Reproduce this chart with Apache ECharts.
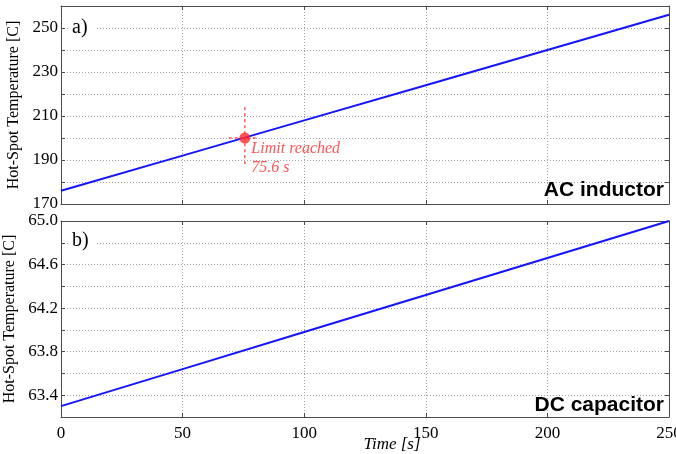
<!DOCTYPE html>
<html>
<head>
<meta charset="utf-8">
<script src="https://cdn.jsdelivr.net/npm/echarts@6/dist/echarts.min.js"></script>
<style>
html,body{margin:0;padding:0;background:#fff;}
#chart{width:676px;height:454px;}
</style>
</head>
<body>
<div id="chart"></div>
<script>
// ---- data ----
var timeS = [0, 50, 100, 150, 200, 250];
var acInductorTemp = [176, 192, 208, 224, 240, 256];
var dcCapacitorTemp = [63.30, 63.64, 63.98, 64.32, 64.66, 65.00];
var limitTime = 75.6;
var limitTemp = 200;
var limitVertical = [[75.6, 214], [75.6, 187.5]];
var limitHorizontal = [[69, 200], [81, 200]];
var panelLabels = ['a)', 'b)'];
var panelNames = ['AC inductor', 'DC capacitor'];
var yName = 'Hot-Spot Temperature [C]';
var xName = 'Time [s]';

var serif = '"Liberation Serif","DejaVu Serif",serif';
var sans = '"Liberation Sans",Arial,sans-serif';
var boxColor = '#4a4a4a';
var gridLine = {show: true, lineStyle: {color: '#a0a0a0', type: [1, 2], width: 1}};

function pair(a, b) { return a.map(function (v, i) { return [v, b[i]]; }); }

var chart = echarts.init(document.getElementById('chart'), null, {renderer: 'canvas'});

function xAx(gi, pos, labels) {
  return {
    type: 'value', gridIndex: gi, position: pos, min: 0, max: 250, interval: 50,
    axisLine: {show: true, onZero: false, lineStyle: {color: boxColor, width: 1}},
    axisTick: {show: true, inside: true, length: 4, lineStyle: {color: boxColor}},
    axisLabel: {show: labels, color: '#000', fontFamily: serif, fontSize: 17, margin: 8},
    splitLine: pos === 'bottom' ? gridLine : {show: false}
  };
}
function yAx(gi, pos, min, max, interval, fmt, withName) {
  return {
    type: 'value', gridIndex: gi, position: pos, min: min, max: max, interval: interval,
    name: withName ? yName : '', nameLocation: 'middle', nameGap: 37,
    nameTextStyle: {fontFamily: serif, fontSize: 16, color: '#000'},
    axisLine: {show: true, onZero: false, lineStyle: {color: boxColor, width: 1}},
    axisTick: {show: true, inside: true, length: 4, lineStyle: {color: boxColor}},
    axisLabel: {show: pos === 'left', formatter: fmt, color: '#000', fontFamily: serif, fontSize: 17, margin: 3,
      showMinLabel: true, showMaxLabel: true},
    splitLine: pos === 'left' ? gridLine : {show: false}
  };
}
var fmtTop = function (v) { var d = Math.round(v - 170); return (d % 20 === 0) ? String(Math.round(v)) : ''; };
var fmtBot = function (v) { var k = Math.round((v - 63.4) / 0.2); return (k >= 0 && k % 2 === 0) ? v.toFixed(1) : ''; };

var option = {
  backgroundColor: '#fff',
  animation: false,
  grid: [
    {left: 61, right: 7, top: 6, height: 198, outerBoundsMode: 'none', containLabel: false},
    {left: 61, right: 7, top: 221, height: 196, outerBoundsMode: 'none', containLabel: false}
  ],
  xAxis: [xAx(0, 'bottom', false), xAx(0, 'top', false), xAx(1, 'bottom', true), xAx(1, 'top', false)],
  yAxis: [
    yAx(0, 'left', 170, 260, 10, fmtTop, true),
    yAx(0, 'right', 170, 260, 10, fmtTop, false),
    yAx(1, 'left', 63.2, 65.0, 0.2, fmtBot, true),
    yAx(1, 'right', 63.2, 65.0, 0.2, fmtBot, false)
  ],
  series: [
    {type: 'line', xAxisIndex: 0, yAxisIndex: 0, data: pair(timeS, acInductorTemp), showSymbol: false,
      lineStyle: {color: '#1414ff', width: 2}, z: 3},
    {type: 'line', xAxisIndex: 2, yAxisIndex: 2, data: pair(timeS, dcCapacitorTemp), showSymbol: false,
      lineStyle: {color: '#1414ff', width: 2}, z: 3},
    {type: 'line', xAxisIndex: 0, yAxisIndex: 0, data: limitVertical, showSymbol: false,
      lineStyle: {color: '#ff3030', width: 1.2, type: [3, 3]}, z: 4},
    {type: 'line', xAxisIndex: 0, yAxisIndex: 0, data: limitHorizontal, showSymbol: false,
      lineStyle: {color: '#ff3030', width: 1.2, type: [3, 3]}, z: 4},
    {type: 'scatter', xAxisIndex: 0, yAxisIndex: 0, data: [[limitTime, limitTemp]], symbolSize: 11,
      itemStyle: {color: '#ff2a2a'}, z: 5,
      label: {show: true, position: [12, 7], align: 'left', verticalAlign: 'top',
        formatter: 'Limit reached\n' + limitTime + ' s', color: '#ff2a2a', fontFamily: serif,
        fontStyle: 'italic', fontSize: 16, lineHeight: 19}}
  ],
  graphic: [
    {type: 'rect', shape: {x: 68, y: 15, width: 28, height: 26}, style: {fill: '#fff'}, z: 10},
    {type: 'text', x: 72, y: 28, style: {text: panelLabels[0], font: '20px ' + serif, fill: '#000', verticalAlign: 'middle'}, z: 11},
    {type: 'rect', shape: {x: 68, y: 228, width: 28, height: 26}, style: {fill: '#fff'}, z: 10},
    {type: 'text', x: 72, y: 241, style: {text: panelLabels[1], font: '20px ' + serif, fill: '#000', verticalAlign: 'middle'}, z: 11},
    {type: 'text', x: 664, y: 190, style: {text: panelNames[0], font: 'bold 21px ' + sans, fill: '#000', align: 'right', verticalAlign: 'middle'}, z: 11},
    {type: 'text', x: 664, y: 405, style: {text: panelNames[1], font: 'bold 21px ' + sans, fill: '#000', align: 'right', verticalAlign: 'middle'}, z: 11},
    {type: 'text', x: 392, y: 445, style: {text: xName, font: 'italic 17px ' + serif, fill: '#000', align: 'center', verticalAlign: 'middle'}, z: 11}
  ]
};
chart.setOption(option);
</script>
</body>
</html>
